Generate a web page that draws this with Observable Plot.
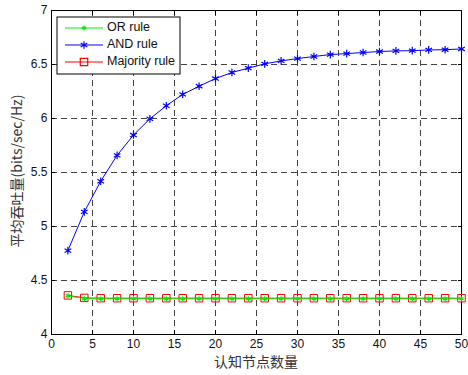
<!DOCTYPE html>
<html>
<head>
<meta charset="utf-8">
<script src="https://cdn.jsdelivr.net/npm/d3@7"></script>
<script src="https://cdn.jsdelivr.net/npm/@observablehq/plot@0.6"></script>
<style>
  html, body { margin: 0; padding: 0; background: #fff; }
  svg { display: block; }
</style>
</head>
<body>
<div id="chart"></div>
<script>
const nodes = [2,4,6,8,10,12,14,16,18,20,22,24,26,28,30,32,34,36,38,40,42,44,46,48,50];
const andRule = [4.777,5.135,5.419,5.659,5.847,5.997,6.118,6.223,6.299,6.370,6.426,6.466,6.506,6.533,6.555,6.574,6.592,6.601,6.611,6.620,6.626,6.628,6.635,6.637,6.644];
const orRule = [4.358,4.332,4.331,4.331,4.331,4.331,4.331,4.331,4.331,4.331,4.331,4.331,4.331,4.331,4.331,4.331,4.331,4.331,4.331,4.331,4.331,4.331,4.331,4.331,4.331];
const majorityRule = [4.362,4.339,4.336,4.336,4.336,4.336,4.336,4.336,4.336,4.336,4.336,4.336,4.336,4.336,4.336,4.336,4.336,4.336,4.336,4.336,4.336,4.336,4.336,4.336,4.336];
const xTicks = [0,5,10,15,20,25,30,35,40,45,50];
const yTicks = [4,4.5,5,5.5,6,6.5,7];
const seriesNames = ["OR rule","AND rule","Majority rule"];
const xLabel = "认知节点数量";
const yLabel = "平均吞吐量(bits/sec/Hz)";

const orData = nodes.map((x,i) => ({x, y: orRule[i]}));
const andData = nodes.map((x,i) => ({x, y: andRule[i]}));
const majData = nodes.map((x,i) => ({x, y: majorityRule[i]}));

const font = "'Liberation Sans', Arial, sans-serif";
const gridDash = "6,4";
const fmt = d => String(d);

const plot = Plot.plot({
  width: 468,
  height: 375,
  marginLeft: 51,
  marginRight: 7,
  marginTop: 10,
  marginBottom: 41,
  style: {fontFamily: font, fontSize: "12px", color: "#111", background: "#fff"},
  x: {domain: [0, 50], ticks: xTicks},
  y: {domain: [4, 7], ticks: yTicks},
  marks: [
    Plot.gridX(xTicks.slice(1, -1), {stroke: "#222", strokeOpacity: 0.85, strokeDasharray: gridDash}),
    Plot.gridY(yTicks.slice(1, -1), {stroke: "#222", strokeOpacity: 0.85, strokeDasharray: gridDash}),
    Plot.axisX(xTicks, {anchor: "bottom", tickSize: -4, tickPadding: 9, tickFormat: fmt, stroke: "#000", fill: "#111", fontSize: 12, label: null}),
    Plot.axisX(xTicks, {anchor: "top", tickSize: -4, tickFormat: () => "", stroke: "#000", label: null}),
    Plot.axisY(yTicks, {anchor: "left", tickSize: -4, tickPadding: 8, tickFormat: fmt, stroke: "#000", fill: "#111", fontSize: 12, label: null}),
    Plot.axisY(yTicks, {anchor: "right", tickSize: -4, tickFormat: () => "", stroke: "#000", label: null}),
    Plot.frame({stroke: "#000", strokeWidth: 1}),
    Plot.line(andData, {x: "x", y: "y", stroke: "#0000ff", strokeWidth: 1}),
    Plot.dot(andData, {x: "x", y: "y", symbol: "asterisk", r: 3.6, stroke: "#0000ff", strokeWidth: 1.2}),
    Plot.line(majData, {x: "x", y: "y", stroke: "#ff0000", strokeWidth: 1}),
    Plot.dot(majData, {x: "x", y: "y", symbol: "square", r: 4.2, fill: "none", stroke: "#ff0000", strokeWidth: 1}),
    Plot.line(orData, {x: "x", y: "y", stroke: "#00ee00", strokeWidth: 1}),
    Plot.dot(orData, {x: "x", y: "y", symbol: "asterisk", r: 2.4, stroke: "#00ee00", strokeWidth: 1.2})
  ]
});

document.getElementById("chart").appendChild(plot);

// axis titles and legend
const svg = d3.select(plot);
svg.append("text")
  .attr("x", 256).attr("y", 363)
  .attr("text-anchor", "middle").attr("dominant-baseline", "middle")
  .attr("font-family", "'Noto Sans CJK SC', sans-serif").attr("font-size", 14)
  .attr("fill", "#333").text(xLabel);
svg.append("text")
  .attr("transform", "translate(18,171) rotate(-90)")
  .attr("text-anchor", "middle").attr("dominant-baseline", "middle")
  .attr("font-family", "'Noto Sans CJK SC', sans-serif").attr("font-size", 14)
  .attr("fill", "#333").text(yLabel);

const lg = svg.append("g").attr("transform", "translate(57,17)");
lg.append("rect").attr("width", 123).attr("height", 57).attr("fill", "#fff").attr("stroke", "#000").attr("stroke-width", 1);
const colors = ["#00ee00", "#0000ff", "#ff0000"];
const symbols = [d3.symbolAsterisk, d3.symbolAsterisk, d3.symbolSquare];
const sizes = [2.4, 3.6, 4.2];
seriesNames.forEach((name, i) => {
  const y = 11 + i * 17;
  const g = lg.append("g").attr("transform", `translate(0,${y})`);
  g.append("line").attr("x1", 8).attr("x2", 46).attr("y1", 0).attr("y2", 0).attr("stroke", colors[i]).attr("stroke-width", 1);
  g.append("path").attr("transform", "translate(27,0)")
    .attr("d", d3.symbol(symbols[i], sizes[i] * sizes[i] * Math.PI)())
    .attr("fill", "none").attr("stroke", colors[i]).attr("stroke-width", 1.2);
  g.append("text").attr("x", 50).attr("y", 0).attr("dominant-baseline", "middle")
    .attr("text-anchor", "start")
    .attr("font-family", font).attr("font-size", 12.5).attr("fill", "#111").text(name);
});
</script>
</body>
</html>
